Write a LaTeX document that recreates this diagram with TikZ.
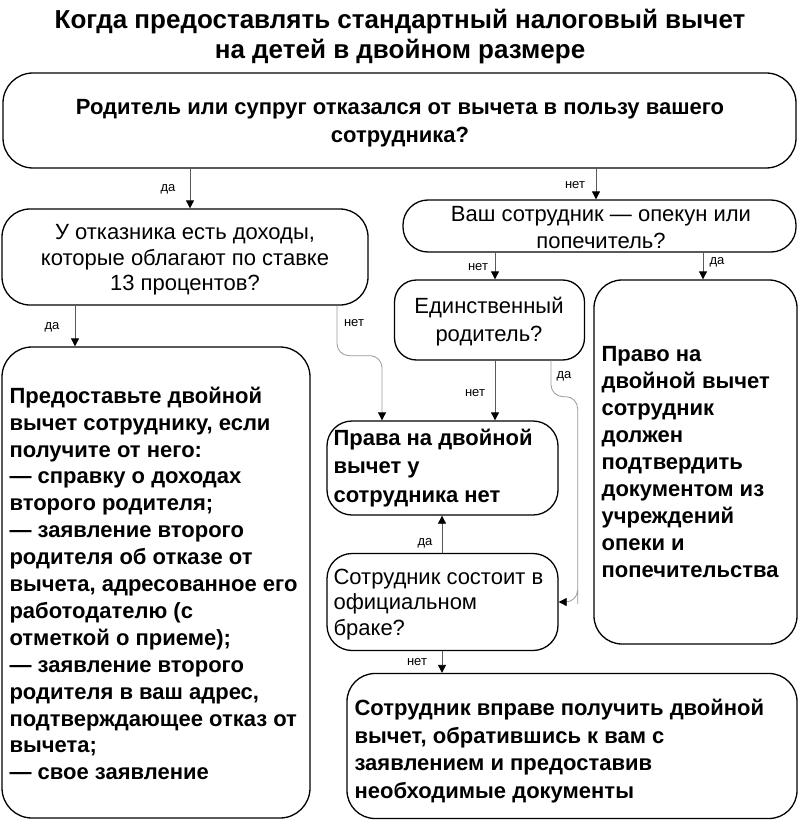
\documentclass[tikz,border=0pt]{standalone}
\usepackage{fontspec}
\setmainfont{Liberation Sans}
\usetikzlibrary{arrows.meta,calc}
\begin{document}
\begin{tikzpicture}[x=1pt,y=-1pt,
  box/.style={draw=black, line width=1.3pt, inner sep=0pt},
  ctext/.style={align=center, inner sep=0pt, font=\fontsize{22}{25.5}\selectfont},
  ltext/.style={align=left, inner sep=0pt, anchor=west},
  arr/.style={draw=black!65, line width=0.8pt, -{Triangle[length=8pt,width=8pt,color=black]}},
  garr/.style={draw=black!40, line width=0.8pt, -{Triangle[length=8pt,width=8pt,color=black]}},
  lab/.style={inner sep=0pt, font=\fontsize{13}{13}\selectfont}]
\useasboundingbox (0,0) rectangle (800,821);
\fill[white] (0,0) rectangle (800,821);

% title
\node[align=center, inner sep=0pt, font=\bfseries\fontsize{26}{30}\selectfont] (title) at (400,37)
  {Когда предоставлять стандартный налоговый вычет\\на детей в двойном размере};

% boxes
\node[box, rounded corners=30pt, minimum width=793, minimum height=95] (b1) at (399.5,120.5) {};
\node[align=center, inner sep=0pt, font=\bfseries\fontsize{22}{28}\selectfont] (t1) at (400,123)
  {Родитель или супруг отказался от вычета в пользу вашего\\сотрудника?};
\node[box, rounded corners=28pt, minimum width=366, minimum height=96] (b2) at (185,257) {};
\node[ctext] (t2) at (185,260) {У отказника есть доходы,\\которые облагают по ставке\\13 процентов?};
\node[box, rounded corners=25pt, minimum width=393, minimum height=52] (b3) at (599.5,226) {};
\node[ctext, font=\fontsize{22}{27}\selectfont] (t3) at (601,227.5) {Ваш сотрудник — опекун или\\попечитель?};
\node[box, rounded corners=22pt, minimum width=190, minimum height=80] (b4) at (489.5,320) {};
\node[ctext, font=\fontsize{22}{28}\selectfont] (t4) at (489,322) {Единственный\\родитель?};
\node[box, rounded corners=28pt, minimum width=203, minimum height=364] (b5) at (695.5,462) {};
\node[ltext, font=\bfseries\fontsize{22}{26.9}\selectfont] (t5) at ($(b5.west)+(8,0)$)
  {Право на\\двойной вычет\\сотрудник\\должен\\подтвердить\\документом из\\учреждений\\опеки и\\попечительства};
\node[box, rounded corners=30pt, minimum width=308, minimum height=471] (b6) at (156,582.5) {};
\node[ltext, font=\bfseries\fontsize{22}{26.9}\selectfont] (t6) at ($(b6.west)+(8,1)$)
  {Предоставьте двойной\\вычет сотруднику, если\\получите от него:\\— справку о доходах\\второго родителя;\\— заявление второго\\родителя об отказе от\\вычета, адресованное его\\работодателю (с\\отметкой о приеме);\\— заявление второго\\родителя в ваш адрес,\\подтверждающее отказ от\\вычета;\\— свое заявление};
\node[box, rounded corners=25pt, minimum width=231, minimum height=94] (b7) at (442.5,468) {};
\node[ltext, font=\bfseries\fontsize{22}{28.5}\selectfont] (t7) at ($(b7.west)+(7,0)$)
  {Права на двойной\\вычет у\\сотрудника нет};
\node[box, rounded corners=25pt, minimum width=231, minimum height=97] (b8) at (442.5,602) {};
\node[ltext, font=\fontsize{22}{25.5}\selectfont] (t8) at ($(b8.west)+(7,2.5)$)
  {Сотрудник состоит в\\официальном\\браке?};
\node[box, rounded corners=28pt, minimum width=450, minimum height=145] (b9) at (572,746) {};
\node[ltext, font=\bfseries\fontsize{22}{27.5}\selectfont] (t9) at ($(b9.west)+(8,5)$)
  {Сотрудник вправе получить двойной\\вычет, обратившись к вам с\\заявлением и предоставив\\необходимые документы};

% x positions of connectors
\coordinate (xa) at (190,0);
\coordinate (xb) at (596,0);
\coordinate (xc) at (75,0);
\coordinate (xd) at (337,0);
\coordinate (xe) at (382,0);
\coordinate (xf) at (495,0);
\coordinate (xg) at (703,0);
\coordinate (xh) at (551,0);
\coordinate (xk) at (442,0);

% connectors
\draw[arr] (b1.south -| xa) -- (b2.north -| xa);
\draw[arr] (b1.south -| xb) -- (b3.north -| xb);
\draw[arr] (b2.south -| xc) -- (b6.north -| xc);
\draw[garr, rounded corners=12pt] (b2.south -| xd) -- ++(0,50) -| (b7.north -| xe);
\draw[arr] (b3.south -| xf) -- (b4.north -| xf);
\draw[arr] (b3.south -| xg) -- (b5.north -| xg);
\draw[arr] (b4.south -| xf) -- (b7.north -| xf);
\draw[garr, rounded corners=12pt] (b4.south -| xh) -- ++(0,36) -| ($(b8.east)+(19,-10)$) |- (b8.east);
\draw[arr] (b8.north -| xk) -- (b7.south -| xk);
\draw[arr] (b8.south -| xk) -- (b9.north -| xk);

% labels
\node[lab] (l1) at (168,189) {да};
\node[lab] (l2) at (575,185) {нет};
\node[lab] (l3) at (52,327) {да};
\node[lab] (l4) at (354,323) {нет};
\node[lab] (l5) at (478,267) {нет};
\node[lab] (l6) at (717,262) {да};
\node[lab] (l7) at (475,393) {нет};
\node[lab] (l8) at (564,376) {да};
\node[lab] (l9) at (425,543) {да};
\node[lab] (l10) at (417,662) {нет};
\end{tikzpicture}
\end{document}
